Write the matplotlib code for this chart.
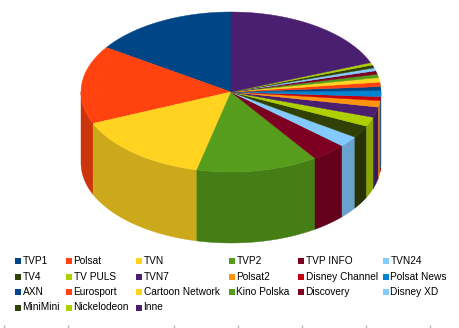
import numpy as np
import matplotlib
matplotlib.use("Agg")
import matplotlib.pyplot as plt
from matplotlib.patches import Polygon, Rectangle
from matplotlib.colors import to_rgb

# dane: udzial w rynku (%)
channels = ["TVP1", "Polsat", "TVN", "TVP2", "TVP INFO", "TVN24",
            "TV4", "TV PULS", "TVN7", "Polsat2", "Disney Channel", "Polsat News",
            "AXN", "Eurosport", "Cartoon Network", "Kino Polska", "Discovery", "Disney XD",
            "MiniMini", "Nickelodeon", "Inne"]
shares = [15.6, 15.8, 14.9, 13.1, 3.8, 2.2,
          2.5, 1.9, 2.1, 1.3, 0.8, 1.2,
          0.8, 0.9, 0.9, 0.7, 0.7, 0.6,
          0.6, 0.5, 19.0]
palette = ["#004586", "#ff420e", "#ffd320", "#579d1c", "#7e0021", "#83caff",
           "#314004", "#aecf00", "#4b1f6f", "#ff950e", "#c5000b", "#0084d1"]
colors = [palette[i % len(palette)] for i in range(len(channels))]

W, H = 459, 328
fig = plt.figure(figsize=(W / 100, H / 100), dpi=100)
ax = fig.add_axes([0, 0, 1, 1])
ax.set_xlim(0, W)
ax.set_ylim(H, 0)
ax.axis("off")

# geometria "3D" tortu (w pikselach)
cx, cy, a, b, depth = 231, 92, 150, 80, 71


def pt(t, dz=0):
    r = np.radians(t)
    return cx + a * np.cos(r), cy - b * np.sin(r) + dz


def shade(c, f=0.8):
    return tuple(v * f for v in to_rgb(c))


vals = np.array(shares, dtype=float)
edges = 90 + 360 * np.concatenate([[0], np.cumsum(vals)]) / vals.sum()

# boki (tylko przednia polowa)
for i in range(len(vals)):
    t1, t2 = max(edges[i], 180), min(edges[i + 1], 360)
    if t2 <= t1:
        continue
    ts = np.linspace(t1, t2, 60)
    top = [pt(t) for t in ts]
    bot = [pt(t, depth) for t in ts[::-1]]
    ax.add_patch(Polygon(top + bot, closed=True, facecolor=shade(colors[i]),
                         edgecolor=shade(colors[i]), lw=0.3))

# wierzch
for i in range(len(vals)):
    ts = np.linspace(edges[i], edges[i + 1], 80)
    poly = [(cx, cy)] + [pt(t) for t in ts]
    ax.add_patch(Polygon(poly, closed=True, facecolor=colors[i],
                         edgecolor=colors[i], lw=0.3))

# legenda - wypelnianie wierszami, 6 kolumn
col_x = [15, 66, 136, 229, 298, 383]
row_y = [261, 276.5, 292, 307.5]
for i, name in enumerate(channels):
    x = col_x[i % 6]
    y = row_y[i // 6]
    ax.add_patch(Rectangle((x, y - 3), 6, 6, facecolor=colors[i], edgecolor="none"))
    ax.text(x + 7.5, y, name, fontsize=7.3, family="Liberation Sans",
            va="center", ha="left", color="black")

# kreski osi na dole
ax.vlines([4, 68, 174, 238, 302, 366, 430], 325, 328, color="#b3b3b3", lw=1)

fig.savefig("out.png", dpi=100)
